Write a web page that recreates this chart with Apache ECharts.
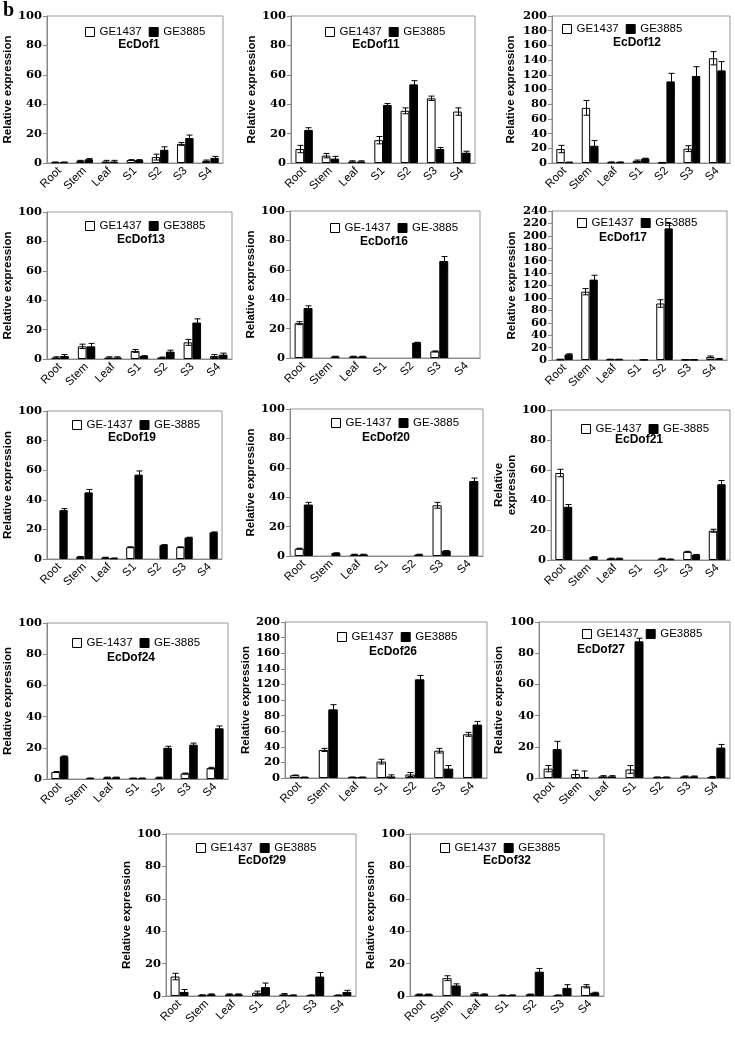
<!DOCTYPE html>
<html><head><meta charset="utf-8">
<script src="https://cdn.jsdelivr.net/npm/echarts@6/dist/echarts.min.js"></script>
<style>html,body{margin:0;padding:0;background:#fff}#c{width:735px;height:1038px}</style>
</head><body><div id="c"></div>
<script>
const categories = ['Root','Stem','Leaf','S1','S2','S3','S4'];

const dof1_w  = [0.5,1.5,1,2,4,13,1.5];   const dof1_we  = [0.2,0.3,0.8,0.3,2,1,0.5];
const dof1_b  = [0.5,2.5,1,2,9,17,3.5];   const dof1_be  = [0.2,0.5,0.8,0.3,2,2,1];
const dof11_w = [9.5,5,1,15.5,35.5,44,35]; const dof11_we = [2.5,1.5,0.5,2.5,2,1.5,2.5];
const dof11_b = [22.5,3,1,39.5,53.5,9.5,7]; const dof11_be = [1.5,1.5,0.5,1,2.5,1,1];
const dof12_w = [19,75,1,3,0.5,19.5,142.5]; const dof12_we = [5,10,0.5,1,0.3,4,9];
const dof12_b = [1,23.5,1,6,111,118.5,126]; const dof12_be = [0.3,7,0.5,0.5,11,12.5,12];
const dof13_w = [1,8.6,1,5.5,1,11.3,2];    const dof13_we = [0.5,1.5,0.5,1,0.3,2,1];
const dof13_b = [2,8.6,1,2,5,24.8,3];      const dof13_be = [1,2,0.5,0.3,1,2.5,1];
const dof16_w = [23.7,0,1,0,0,4.5,0];      const dof16_we = [1,0,0.2,0,0,0.3,0];
const dof16_b = [34,1,1,0,10.5,66,0];      const dof16_be = [1.5,0.2,0.2,0,0.2,3,0];
const dof17_w = [1,110,1,0,91,0.5,5];      const dof17_we = [0.3,5,0.3,0,6,0.2,1.5];
const dof17_b = [9,129.5,1,0.5,212,0.5,2]; const dof17_be = [1,7,0.3,0.2,8,0.2,0.5];
const dof19_w = [0,1.5,1,8,0,8,0];         const dof19_we = [0,0.2,0.2,0.2,0,0.2,0];
const dof19_b = [33,45,0.5,57,9.5,14.5,18]; const dof19_be = [1,2,0.2,2.5,0.2,0.2,0.3];
const dof20_w = [5,0,1,0,0,34.5,0];        const dof20_we = [0.3,0,0.2,0,0,2,0];
const dof20_b = [35,2,1,0,1,3.5,51];       const dof20_be = [1.5,0.2,0.2,0,0.2,0.2,2];
const dof21_w = [58,0,1,0,1,5.5,19.5];     const dof21_we = [2.5,0,0.2,0,0.2,0.3,1];
const dof21_b = [35.5,2,1,0,0.5,3.5,50.5]; const dof21_be = [1.5,0.2,0.2,0,0.2,0.2,2.5];
const dof24_w = [4.5,0,1,0.5,1,3.5,7];     const dof24_we = [0.3,0,0.2,0.1,0.2,0.3,0.5];
const dof24_b = [14.5,0.5,1,0.5,20,22,32.5]; const dof24_be = [0.3,0.1,0.2,0.1,1,1,1.5];
const dof26_w = [3.5,36,1,21,4.5,35,56];   const dof26_we = [0.3,2,0.3,3,2.5,3,2.5];
const dof26_b = [1,88,1,2,126.5,12,68.5];  const dof26_be = [0.2,6,0.3,2,5,4,4];
const dof27_w = [6,2.5,1,5.5,0.5,1,0.5];   const dof27_we = [2,2.5,0.5,2.5,0.2,0.3,0.5];
const dof27_b = [18.5,0.5,1,87.6,0.5,1,19.5]; const dof27_be = [5,4,0.5,2,0.2,0.3,2];
const dof29_w = [12,0.5,1,2,1,0.5,0.5];    const dof29_we = [2,0.3,0.3,1,0.5,0.2,0.2];
const dof29_b = [2.5,1,1,5.5,0.5,12,2.5];  const dof29_be = [1.5,0.3,0.3,2.5,0.2,2.5,1];
const dof32_w = [1,11,1.5,0.5,1,0.5,6];    const dof32_we = [0.2,1.5,0.5,0.2,0.2,0.2,1];
const dof32_b = [1,6.5,1,0.5,15,5,2];      const dof32_be = [0.2,1,0.3,0.2,2,2,0.3];

const labelsA = ['GE1437','GE3885'];
const labelsB = ['GE-1437','GE-3885'];
const panelTitles = ['EcDof1','EcDof11','EcDof12','EcDof13','EcDof16','EcDof17','EcDof19','EcDof20','EcDof21','EcDof24','EcDof26','EcDof27','EcDof29','EcDof32'];
const yMaxes = [100,100,200,100,100,240,100,100,100,100,200,100,100,100];

const panels = [
  {w:dof1_w,we:dof1_we,b:dof1_b,be:dof1_be,lab:labelsA},
  {w:dof11_w,we:dof11_we,b:dof11_b,be:dof11_be,lab:labelsA},
  {w:dof12_w,we:dof12_we,b:dof12_b,be:dof12_be,lab:labelsA},
  {w:dof13_w,we:dof13_we,b:dof13_b,be:dof13_be,lab:labelsA},
  {w:dof16_w,we:dof16_we,b:dof16_b,be:dof16_be,lab:labelsB},
  {w:dof17_w,we:dof17_we,b:dof17_b,be:dof17_be,lab:labelsA},
  {w:dof19_w,we:dof19_we,b:dof19_b,be:dof19_be,lab:labelsB},
  {w:dof20_w,we:dof20_we,b:dof20_b,be:dof20_be,lab:labelsB},
  {w:dof21_w,we:dof21_we,b:dof21_b,be:dof21_be,lab:labelsB},
  {w:dof24_w,we:dof24_we,b:dof24_b,be:dof24_be,lab:labelsB},
  {w:dof26_w,we:dof26_we,b:dof26_b,be:dof26_be,lab:labelsA},
  {w:dof27_w,we:dof27_we,b:dof27_b,be:dof27_be,lab:labelsA},
  {w:dof29_w,we:dof29_we,b:dof29_b,be:dof29_be,lab:labelsA},
  {w:dof32_w,we:dof32_we,b:dof32_b,be:dof32_be,lab:labelsA}
];

// layout: grid [left, top, width, height], nameGap, legend [left, centerY], title [centerX, centerY]
const layout = [
  {g:[46,16,177,147], ng:28, lg:[85,32],  tt:[139,45]},
  {g:[291,16,184,147], ng:26, lg:[325,32], tt:[376,45]},
  {g:[552,16,178,147], ng:35, lg:[562,29], tt:[637,43]},
  {g:[43,212,189,147], ng:30, lg:[85,226], tt:[141,240]},
  {g:[290,211,190,147], ng:30, lg:[330,228], tt:[384,242]},
  {g:[552,211,175,149], ng:34, lg:[577,223], tt:[623,238]},
  {g:[42,411,180,148], ng:29, lg:[72,425], tt:[132,438]},
  {g:[290,409,193,147], ng:32, lg:[331,423], tt:[386,438]},
  {g:[551,410,179,150], ng:16, lg:[581,429], tt:[639,440], wrap:true},
  {g:[43,623,185,156], ng:31, lg:[72,643], tt:[131,658]},
  {g:[285,622,202,156], ng:33, lg:[337,637], tt:[393,652]},
  {g:[539,622,191,156], ng:34, lg:[582,634], tt:[601,650]},
  {g:[166,834,190,162], ng:22, lg:[196,848], tt:[262,861]},
  {g:[410,834,194,162], ng:20, lg:[440,848], tt:[507,861]}
];

const BAR = 0.33;
function errRender(side){
  return function(params, api){
    const cat = api.value(0), v = api.value(1), e = api.value(2);
    if (!(e > 0) || !(v > 0)) return;
    const band = api.size([1,0])[0];
    const c = api.coord([cat, v]);
    const x = Math.round(c[0] + side*band*BAR/2) + 0.5;
    const yT = api.coord([cat, v+e])[1];
    const yB = api.coord([cat, Math.max(0, v-e)])[1];
    const cap = 3;
    const st = {stroke:'#000', lineWidth:1};
    return {type:'group', children:[
      {type:'line', shape:{x1:x,y1:yT,x2:x,y2:yB}, style:st},
      {type:'line', shape:{x1:x-cap,y1:yT,x2:x+cap,y2:yT}, style:st},
      {type:'line', shape:{x1:x-cap,y1:yB,x2:x+cap,y2:yB}, style:st}
    ]};
  };
}
const nz = v => (v > 0 ? v : '-');

const grid=[], xAxis=[], yAxis=[], series=[], legend=[], graphic=[];
graphic.push({type:'text', x:3, y:1, style:{text:'b', font:'bold 20px "Liberation Serif"', fill:'#000'}});

panels.forEach((p, i) => {
  const L = layout[i];
  grid.push({left:L.g[0], top:L.g[1], width:L.g[2], height:L.g[3], show:true, borderColor:'#999', borderWidth:1, containLabel:false});
  xAxis.push({type:'category', gridIndex:i, data:categories,
    axisLine:{lineStyle:{color:'#888'}},
    axisTick:{length:4, lineStyle:{color:'#888'}},
    axisLabel:{rotate:45, interval:0, margin:6, fontFamily:'Liberation Sans', fontSize:11.5, color:'#000'}});
  yAxis.push({type:'value', gridIndex:i, min:0, max:yMaxes[i], interval:20,
    axisLine:{show:true, lineStyle:{color:'#888'}},
    axisTick:{show:true, length:4, lineStyle:{color:'#888'}},
    splitLine:{show:false},
    axisLabel:{margin:5, fontFamily:'DejaVu Serif', fontWeight:'bold', fontSize:11.5, color:'#000'},
    name: L.wrap ? 'Relative\nexpression' : 'Relative expression',
    nameLocation:'middle', nameGap:L.ng,
    nameTextStyle:{fontFamily:'Liberation Sans', fontWeight:'bold', fontSize:11.5, color:'#000', lineHeight:13}});
  series.push({type:'bar', name:p.lab[0], xAxisIndex:i, yAxisIndex:i, data:p.w.map(nz),
    barWidth:(BAR*100)+'%', barGap:'0%',
    itemStyle:{color:'#fff', borderColor:'#000', borderWidth:1}, animation:false});
  series.push({type:'bar', name:p.lab[1], xAxisIndex:i, yAxisIndex:i, data:p.b.map(nz),
    barWidth:(BAR*100)+'%', barGap:'0%',
    itemStyle:{color:'#000', borderColor:'#000', borderWidth:1}, animation:false});
  series.push({type:'custom', name:'err', xAxisIndex:i, yAxisIndex:i, renderItem:errRender(-1),
    data:p.w.map((v,k)=>[k, v, p.we[k]]), z:5, animation:false, silent:true});
  series.push({type:'custom', name:'err', xAxisIndex:i, yAxisIndex:i, renderItem:errRender(1),
    data:p.b.map((v,k)=>[k, v, p.be[k]]), z:5, animation:false, silent:true});
  legend.push({left:L.lg[0], top:L.lg[1]-6, padding:0, itemWidth:9, itemHeight:9, itemGap:7, itemTextGap:3,
    selectedMode:false,
    textStyle:{fontFamily:'Liberation Sans', fontSize:11.5, color:'#000'},
    data:[{name:p.lab[0], icon:'rect', itemStyle:{color:'#fff', borderColor:'#000', borderWidth:1}},
          {name:p.lab[1], icon:'rect', itemStyle:{color:'#000', borderColor:'#000', borderWidth:1}}]});
  graphic.push({type:'text', x:L.tt[0], y:L.tt[1], z:10,
    style:{text:panelTitles[i], font:'bold 12px "Liberation Sans"', fill:'#000',
      align:'center', verticalAlign:'middle', textAlign:'center', textVerticalAlign:'middle'}});
});

const chart = echarts.init(document.getElementById('c'), null, {renderer:'canvas'});
chart.setOption({animation:false, backgroundColor:'#fff', grid, xAxis, yAxis, series, legend, graphic, tooltip:{show:false}});
</script>
</body></html>
